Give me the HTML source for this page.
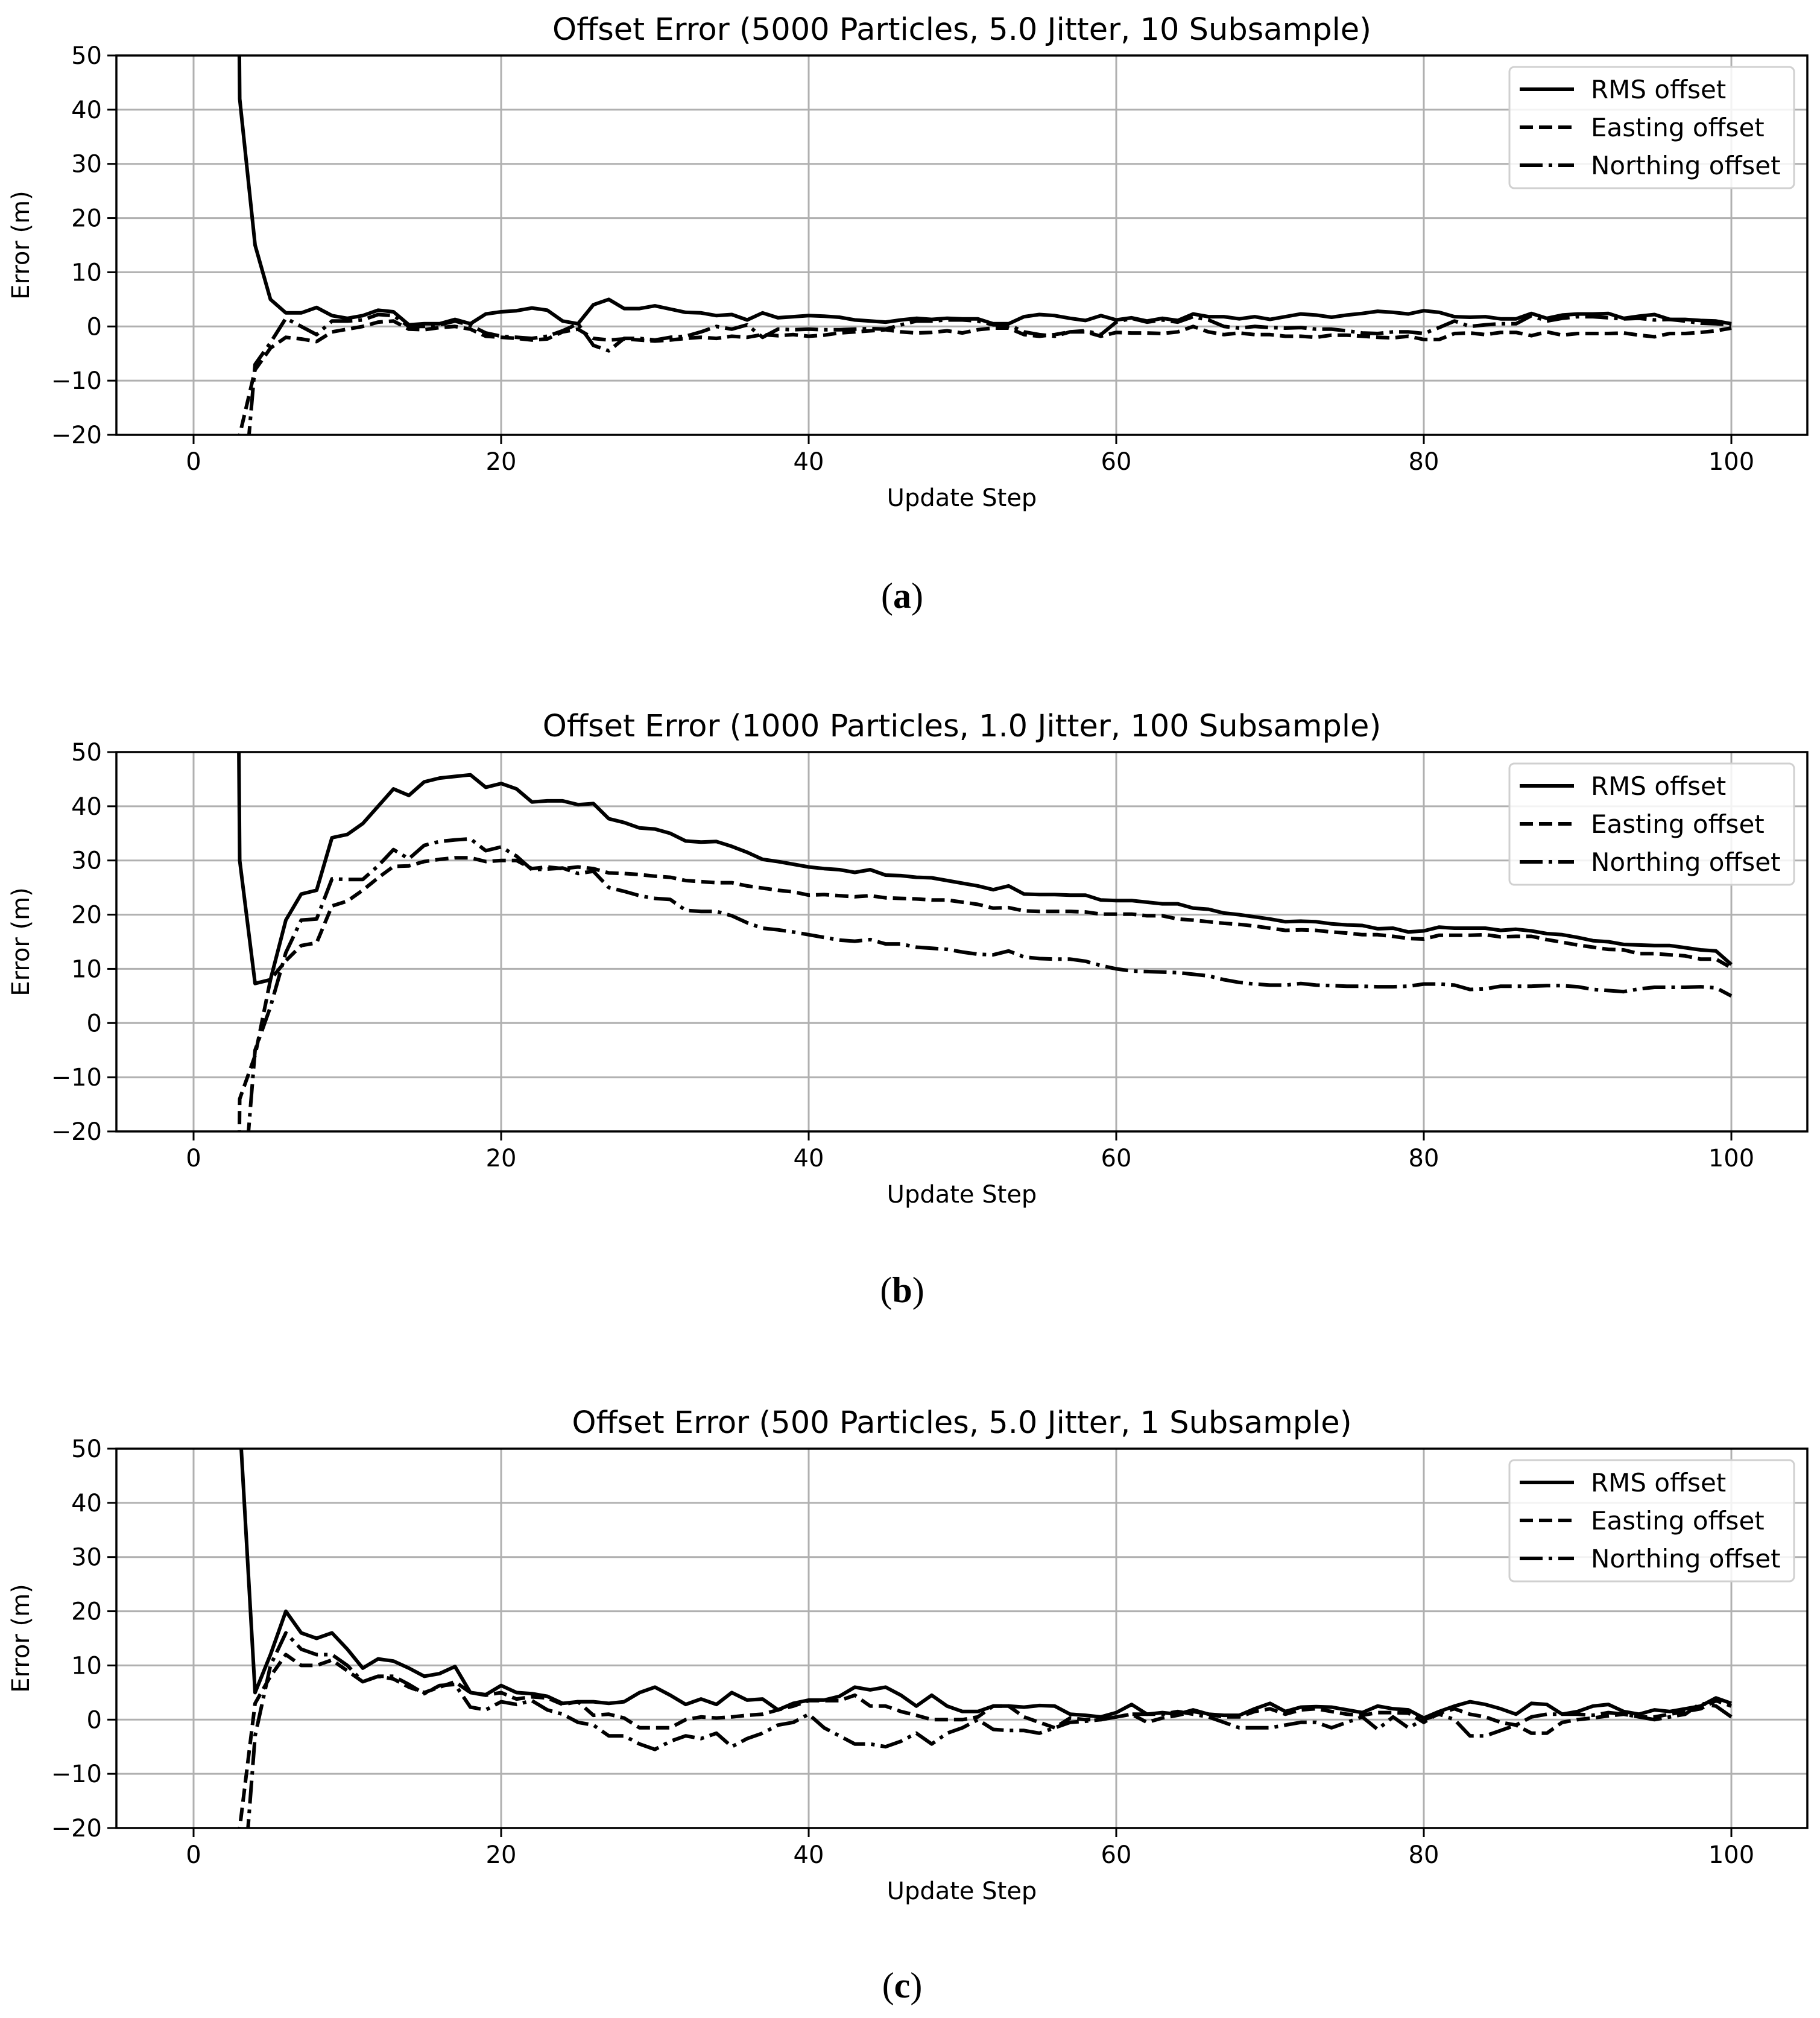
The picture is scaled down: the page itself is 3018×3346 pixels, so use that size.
<!DOCTYPE html>
<html><head><meta charset="utf-8"><style>
html,body{margin:0;padding:0;background:#fff;overflow:hidden;width:3018px;height:3346px;}
svg{display:block;font-family:"DejaVu Sans","Liberation Sans",sans-serif;}
</style></head><body>
<svg id="fig" width="3018" height="3346" viewBox="0 0 3018 3346" xmlns="http://www.w3.org/2000/svg"></svg>
<script>
const startStep = 2;
const xTicks = [0, 20, 40, 60, 80, 100];
const yTicks = [50, 40, 30, 20, 10, 0, -10, -20];
const yTickLabels = ["50", "40", "30", "20", "10", "0", "\u221210", "\u221220"];
const seriesNames = ["RMS offset", "Easting offset", "Northing offset"];
const panelTitles = ["Offset Error (5000 Particles, 5.0 Jitter, 10 Subsample)", "Offset Error (1000 Particles, 1.0 Jitter, 100 Subsample)", "Offset Error (500 Particles, 5.0 Jitter, 1 Subsample)"];
const panelLetters = ["a", "b", "c"];

const rmsA = [400,42,15,5,2.5,2.5,3.5,2,1.5,2,3,2.7,0.3,0.5,0.5,1.3,0.5,2.3,2.7,2.9,3.4,3,1,0.5,4,5,3.3,3.3,3.8,3.2,2.6,2.5,2,2.2,1.2,2.5,1.6,1.8,2,1.9,1.7,1.2,1,0.8,1.2,1.5,1.3,1.5,1.4,1.4,0.5,0.5,1.8,2.2,2,1.5,1.1,2,1.2,1.6,1,1.5,1.1,2.3,1.8,1.8,1.4,1.8,1.3,1.8,2.3,2.1,1.7,2.1,2.4,2.8,2.6,2.3,2.9,2.6,1.8,1.7,1.8,1.4,1.4,2.4,1.5,2.1,2.3,2.3,2.4,1.5,1.9,2.2,1.3,1.3,1.1,1,0.5];
const eastA = [-300,-20,-8,-4,-2,-2.3,-2.8,-1,-0.5,0,0.8,1,-0.5,-0.6,-0.2,0,-0.5,-1.8,-2,-2.2,-2.5,-2.3,-1,-0.5,-2.2,-2.5,-2.3,-2.5,-2.7,-2.5,-2.2,-2,-2.2,-1.8,-2,-1.5,-1.7,-1.5,-1.8,-1.6,-1.2,-1,-0.8,-0.6,-1,-1.2,-1.1,-0.8,-1.2,-0.6,-0.3,-0.3,-1.5,-1.8,-1.5,-1,-1,-1.8,-1.1,-1.2,-1.2,-1.3,-1,0,-1,-1.5,-1.2,-1.5,-1.5,-1.8,-1.8,-2,-1.6,-1.6,-1.8,-2,-2.1,-1.8,-2.4,-2.4,-1.3,-1.2,-1.5,-1.1,-1.1,-1.7,-1,-1.6,-1.3,-1.3,-1.3,-1.2,-1.6,-1.9,-1.3,-1.3,-1.1,-0.8,-0.3];
const northA = [-400,-40,-7,-3,1.5,0,-1.5,1,1,1.2,2.2,2,0,0,0.3,1,0.2,-1.2,-1.8,-2,-2.2,-1.8,-0.8,0.5,-3.5,-4.5,-2.2,-2.2,-2.5,-2,-1.8,-1,0,-0.5,0.3,-2,-0.5,-0.6,-0.5,-0.6,-0.6,-0.5,-0.4,-0.5,0.3,1,1,1.2,1.2,1,0.3,0.3,-1,-1.5,-1.8,-1,-0.8,-1.5,0.8,1.5,0.8,1.2,0.8,1.8,1.2,0,-0.3,0,-0.2,-0.3,-0.2,-0.5,-0.5,-0.8,-1.2,-1.3,-1,-1,-1.3,-0.2,1,0,0.3,0.5,0.5,2,1,1.5,1.8,1.8,1.6,1.4,1.5,1.2,1.3,1,0.6,0.5,0.3];

const rmsB = [400,30,7.3,8,19,23.8,24.5,34.2,34.8,36.8,40,43.2,42,44.5,45.2,45.5,45.8,43.5,44.2,43.2,40.8,41,41,40.3,40.5,37.7,37,36,35.8,35,33.6,33.4,33.5,32.6,31.5,30.2,29.8,29.3,28.8,28.5,28.3,27.8,28.3,27.3,27.2,26.9,26.8,26.3,25.8,25.3,24.6,25.3,23.8,23.7,23.7,23.6,23.6,22.7,22.6,22.6,22.3,22,22,21.2,21,20.3,20,19.6,19.2,18.7,18.8,18.7,18.3,18.1,18,17.4,17.5,16.8,17,17.7,17.5,17.5,17.5,17.1,17.3,17,16.5,16.3,15.8,15.2,15,14.5,14.4,14.3,14.3,13.9,13.5,13.3,10.8];
const eastB = [-300,-14,-6,8,11.5,14.3,14.8,21.6,22.5,24.5,26.8,28.9,29,29.8,30.2,30.5,30.5,29.8,30,30,28.5,28.8,28.5,28.8,28.5,27.7,27.6,27.4,27.1,26.9,26.3,26.1,25.9,25.9,25.3,24.9,24.5,24.2,23.6,23.7,23.5,23.3,23.5,23.1,23,22.9,22.7,22.7,22.3,21.9,21.2,21.3,20.7,20.6,20.6,20.6,20.5,20.1,20.1,20.1,19.8,19.8,19.2,19,18.7,18.4,18.2,17.9,17.5,17.1,17.2,17.1,16.8,16.6,16.3,16.3,16,15.6,15.5,16.2,16.2,16.2,16.3,15.9,16,16,15.4,14.9,14.4,14,13.6,13.5,12.8,12.8,12.6,12.4,11.8,11.8,10.2];
const northB = [-400,-40,-5,3,13,19,19.2,26.6,26.5,26.5,29,32,30.3,32.8,33.5,33.8,34,31.8,32.5,30.8,28.3,28.4,28.6,27.6,28,25,24.3,23.5,23,22.8,20.8,20.6,20.6,19.8,18.5,17.5,17.2,16.8,16.3,15.8,15.3,15.1,15.4,14.6,14.6,14,13.8,13.6,13.1,12.7,12.6,13.3,12.2,11.9,11.8,11.8,11.4,10.6,10,9.6,9.5,9.4,9.3,9,8.7,8,7.5,7.2,7,7,7.3,7,6.9,6.8,6.8,6.7,6.7,6.8,7.2,7.2,7,6.2,6.3,6.8,6.8,6.8,6.9,6.9,6.7,6.2,6,5.8,6.3,6.6,6.6,6.6,6.7,6.5,5];

const rmsC = [400,55,5,12,20,16,15,16,13,9.5,11.2,10.8,9.5,8,8.5,9.8,5,4.6,6.3,5,4.8,4.3,3,3.3,3.3,3,3.3,5,6,4.5,2.8,3.8,2.8,5,3.6,3.8,1.8,3,3.6,3.6,4.3,6,5.5,6,4.5,2.5,4.5,2.5,1.5,1.5,2.5,2.5,2.3,2.6,2.5,1,0.8,0.5,1.3,2.8,1,1.3,1,1.8,1,0.8,0.8,2,3,1.5,2.3,2.4,2.3,1.8,1.3,2.5,2,1.8,0.3,1.5,2.5,3.3,2.8,2,1,3,2.8,1,1.5,2.5,2.8,1.5,1,1.8,1.5,2,2.5,4,3];
const eastC = [-300,-20,3,8,12,10,10,11,9,7,8,7.5,6,5,6,7,5,4.5,5,3.8,4.2,4,2.8,3.3,0.8,1,0.3,-1.5,-1.5,-1.5,0,0.5,0.3,0.5,0.8,1,1.8,2.5,3.5,3.5,3.5,4.5,2.5,2.5,1.5,0.8,0,0,0,0.5,2.5,2.5,0.5,-0.5,-1.5,0.3,0,0,0.5,1,-0.5,0.3,0.8,1.5,1,0.5,0.5,1.5,2,1,1.8,2,1.5,1,0.8,1.3,1.3,1.2,-0.5,1.2,2,1,0.5,-0.5,-1,-2.5,-2.5,-0.5,0,0.3,0.7,1,0.5,0.5,1,1.5,2,3.5,2.5];
const northC = [-400,-40,-3,10,16,13,12,12,10,7,8,8,6.5,4.8,6.3,6.5,2.3,1.8,3.3,2.8,3.5,1.8,1,-0.5,-1,-3,-3,-4.5,-5.5,-4,-3,-3.5,-2.5,-5,-3.5,-2.5,-1,-0.5,1,-1.5,-3,-4.5,-4.5,-5,-4,-2.5,-4.5,-2.5,-1.5,0,-1.8,-2,-2,-2.5,-1.5,-0.5,-0.3,0,0.5,1,1,1,1.5,1,0.5,-0.5,-1.5,-1.5,-1.5,-1,-0.5,-0.5,-1.5,-0.5,0.5,-1.8,0.5,-1.5,0,1,0,-3,-3,-2,-1,0.5,1,1,1,0.8,1.3,1,0.5,0,0.5,1,3,2.5,0.5];

const panelSeries = [[rmsA, eastA, northA], [rmsB, eastB, northB], [rmsC, eastC, northC]];

const NS = "http://www.w3.org/2000/svg";
const svg = document.getElementById("fig");
function mk(tag, attrs, parent) {
  const e = document.createElementNS(NS, tag);
  for (const k in attrs) e.setAttribute(k, attrs[k]);
  (parent || svg).appendChild(e);
  return e;
}
const L = 193, R = 2997, X0 = 321, X100 = 2871;
const panelTops = [92, 1247, 2402];
const PH = 629;
const dashes = ["none", "22,10", "38,10,6,10"];
const seriesKeys = ["rms", "easting", "northing"];
const FS = 40;

panelTops.forEach((T, p) => {
  const B = T + PH;
  const g = mk("g", {});
  
  
  const xs = v => X0 + (X100 - X0) * v / 100;
  const ys = v => B - (v + 20) / 70 * PH;
  const clip = mk("clipPath", { id: "clip" + p }, g);
  mk("rect", { x: L, y: T, width: R - L, height: PH }, clip);
  xTicks.forEach(t => {
    const ln = mk("line", { x1: xs(t), x2: xs(t), y1: T, y2: B, stroke: "#b0b0b0", "stroke-width": 3 }, g);
    
    
    const tk = mk("line", { x1: xs(t), x2: xs(t), y1: B, y2: B + 15, stroke: "#000", "stroke-width": 3 }, g);
    
    
    const tx = mk("text", { x: xs(t), y: B + 58, "text-anchor": "middle", "font-size": FS }, g);
    tx.textContent = t;
    
    
  });
  yTicks.forEach((t, i) => {
    const ln = mk("line", { x1: L, x2: R, y1: ys(t), y2: ys(t), stroke: "#b0b0b0", "stroke-width": 3 }, g);
    
    
    const tk = mk("line", { x1: L - 15, x2: L, y1: ys(t), y2: ys(t), stroke: "#000", "stroke-width": 3 }, g);
    
    
    const tx = mk("text", { x: L - 24, y: ys(t) + 14, "text-anchor": "end", "font-size": FS }, g);
    tx.textContent = yTickLabels[i];
    
    
  });
  panelSeries[p].forEach((vals, s) => {
    const pts = vals.map((v, i) => xs(startStep + i).toFixed(1) + "," + ys(v).toFixed(1)).join(" ");
    const pl = mk("polyline", { points: pts, fill: "none", stroke: "#000", "stroke-width": 6, "stroke-dasharray": dashes[s], "stroke-linejoin": "round", "clip-path": "url(#clip" + p + ")" }, g);
    
    
  });
  const frame = mk("rect", { x: L, y: T, width: R - L, height: PH, fill: "none", stroke: "#000", "stroke-width": 3.5 }, g);
  
  
  const title = mk("text", { x: (L + R) / 2, y: T - 26, "text-anchor": "middle", "font-size": 51 }, g);
  title.textContent = panelTitles[p];
  
  
  const xl = mk("text", { x: (L + R) / 2, y: B + 118, "text-anchor": "middle", "font-size": FS }, g);
  xl.textContent = "Update Step";
  
  
  const yl = mk("text", { x: 0, y: 0, "text-anchor": "middle", "font-size": FS, transform: "translate(48," + (T + PH / 2) + ") rotate(-90)" }, g);
  yl.textContent = "Error (m)";
  
  
  const lg = mk("g", {}, g);
  
  
  mk("rect", { x: 2503, y: T + 19, width: 472, height: 201, rx: 8, fill: "#fff", "fill-opacity": 0.85, stroke: "#d0d0d0", "stroke-width": 3 }, lg);
  seriesNames.forEach((n, s) => {
    const cy = T + 56 + s * 63;
    const ln = mk("line", { x1: 2520, x2: 2610, y1: cy, y2: cy, stroke: "#000", "stroke-width": 6, "stroke-dasharray": dashes[s] }, lg);
    
    
    const tx = mk("text", { x: 2638, y: cy + 15, "font-size": 42 }, lg);
    tx.textContent = n;
    
    
  });
});
const letterY = [988, 2139, 3292];
letterY.forEach((y, i) => {
  const t = mk("text", { x: 1496, y: y + 20, "text-anchor": "middle", "font-size": 60, "font-family": "'Liberation Serif', serif" });
  t.innerHTML = "(<tspan font-weight='bold'>" + panelLetters[i] + "</tspan>)";
  
  
});
</script>
</body></html>
